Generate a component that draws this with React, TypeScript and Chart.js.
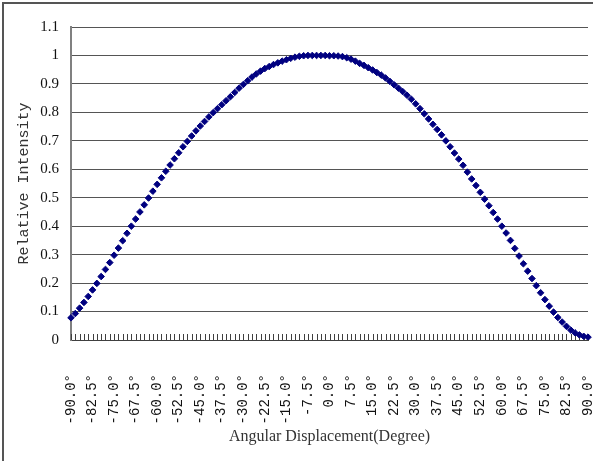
import React, { useEffect, useRef } from "react";
import { Chart, registerables } from "chart.js";

Chart.register(...registerables);

// Angular displacement categories (degrees)
const angles: number[] = [
  -90, -88.5, -87, -85.5, -84, -82.5, -81, -79.5, -78, -76.5,
  -75, -73.5, -72, -70.5, -69, -67.5, -66, -64.5, -63, -61.5,
  -60, -58.5, -57, -55.5, -54, -52.5, -51, -49.5, -48, -46.5,
  -45, -43.5, -42, -40.5, -39, -37.5, -36, -34.5, -33, -31.5,
  -30, -28.5, -27, -25.5, -24, -22.5, -21, -19.5, -18, -16.5,
  -15, -13.5, -12, -10.5, -9, -7.5, -6, -4.5, -3, -1.5,
  0, 1.5, 3, 4.5, 6, 7.5, 9, 10.5, 12, 13.5,
  15, 16.5, 18, 19.5, 21, 22.5, 24, 25.5, 27, 28.5,
  30, 31.5, 33, 34.5, 36, 37.5, 39, 40.5, 42, 43.5,
  45, 46.5, 48, 49.5, 51, 52.5, 54, 55.5, 57, 58.5,
  60, 61.5, 63, 64.5, 66, 67.5, 69, 70.5, 72, 73.5,
  75, 76.5, 78, 79.5, 81, 82.5, 84, 85.5, 87, 88.5,
  90,
];

// Relative intensity
const intensity: number[] = [
  0.078, 0.093, 0.112, 0.132, 0.153, 0.176, 0.199, 0.223, 0.248, 0.272,
  0.298, 0.323, 0.349, 0.375, 0.400, 0.425, 0.450, 0.475, 0.499, 0.523,
  0.547, 0.570, 0.593, 0.615, 0.637, 0.658, 0.679, 0.698, 0.717, 0.735,
  0.752, 0.768, 0.784, 0.799, 0.813, 0.827, 0.841, 0.855, 0.870, 0.885,
  0.898, 0.911, 0.924, 0.935, 0.945, 0.954, 0.961, 0.968, 0.974, 0.980,
  0.985, 0.990, 0.994, 0.997, 0.999, 1.0, 1.0, 1.0, 1.0, 1.0,
  0.999, 0.999, 0.998, 0.996, 0.992, 0.987, 0.980, 0.972, 0.965, 0.957,
  0.949, 0.940, 0.931, 0.921, 0.909, 0.897, 0.885, 0.873, 0.860, 0.846,
  0.830, 0.813, 0.795, 0.777, 0.758, 0.740, 0.721, 0.700, 0.679, 0.657,
  0.636, 0.614, 0.590, 0.566, 0.543, 0.519, 0.495, 0.472, 0.448, 0.425,
  0.400, 0.376, 0.350, 0.322, 0.295, 0.268, 0.242, 0.216, 0.191, 0.166,
  0.142, 0.119, 0.098, 0.079, 0.063, 0.048, 0.035, 0.025, 0.018, 0.013,
  0.010,
];

const LABEL_EVERY = 5;
const Y_MIN = 0;
const Y_MAX = 1.1;
const Y_STEP = 0.1;

const X_TITLE = "Angular Displacement(Degree)";
const Y_TITLE = "Relative Intensity";

const innerTicks = {
  id: "innerTicks",
  beforeDatasetsDraw(chart: any) {
    const xs = chart.scales.x;
    const { ctx, chartArea } = chart;
    ctx.save();
    ctx.strokeStyle = "#404040";
    ctx.lineWidth = 1;
    ctx.beginPath();
    for (let i = 0; i < angles.length; i++) {
      const x = Math.round(xs.getPixelForValue(i)) + 0.5;
      ctx.moveTo(x, chartArea.bottom);
      ctx.lineTo(x, chartArea.bottom - 6);
    }
    ctx.stroke();
    ctx.restore();
  },
};

export default function App() {
  const ref = useRef<HTMLCanvasElement>(null);

  useEffect(() => {
    document.body.style.margin = "0";
    document.body.style.overflow = "hidden";
    const canvas = ref.current;
    if (!canvas) return;
    const chart = new Chart(canvas, {
      type: "line",
      data: {
        labels: angles,
        datasets: [
          {
            data: intensity,
            showLine: false,
            pointStyle: "rectRot",
            pointRadius: 3.3,
            pointBorderWidth: 1,
            pointBackgroundColor: "#000080",
            pointBorderColor: "#000080",
          },
        ],
      },
      options: {
        responsive: false,
        animation: false,
        events: [],
        layout: { padding: { left: 0, top: 27, right: 3, bottom: 0 } },
        plugins: { legend: { display: false }, tooltip: { enabled: false } },
        scales: {
          x: {
            type: "category",
            offset: false,
            grid: { display: false },
            border: { display: true, color: "#404040", width: 1 },
            ticks: {
              autoSkip: false,
              maxRotation: 90,
              minRotation: 90,
              padding: 26,
              color: "#111",
              font: { family: "Liberation Mono", size: 14 },
              callback: (_v: any, i: number) =>
                i % LABEL_EVERY === 0 ? `${angles[i].toFixed(1)}°` : "",
            },
            title: {
              display: true,
              text: X_TITLE,
              color: "#333",
              font: { family: "Liberation Serif", size: 16 },
              padding: { top: 0, bottom: 15 },
            },
            afterFit: (s: any) => {
              s.height = 121;
              s.paddingLeft = 0;
              s.paddingRight = 0;
            },
          },
          y: {
            min: Y_MIN,
            max: Y_MAX,
            grid: { color: "#555", lineWidth: 1, drawTicks: false },
            border: { display: true, color: "#808080", width: 2 },
            ticks: {
              stepSize: Y_STEP,
              padding: 12,
              color: "#111",
              font: { family: "Liberation Serif", size: 15 },
              callback: (v: any) => String(Number(Number(v).toFixed(1))),
            },
            title: {
              display: true,
              text: Y_TITLE,
              color: "#333",
              font: { family: "Liberation Mono", size: 15 },
              padding: { top: 15, bottom: 0 },
            },
            afterFit: (s: any) => {
              s.width = 71;
            },
          },
        },
      },
      plugins: [innerTicks],
    });
    return () => chart.destroy();
  }, []);

  return (
    <div style={{ position: "relative", width: 593, height: 461, overflow: "hidden", background: "#fff" }}>
      <canvas ref={ref} width={593} height={461} style={{ display: "block", width: 593, height: 461 }} />
      <div
        style={{
          position: "absolute",
          left: 2,
          top: 2,
          right: -10,
          bottom: -10,
          borderLeft: "2px solid #555",
          borderTop: "2px solid #555",
          pointerEvents: "none",
        }}
      />
    </div>
  );
}
